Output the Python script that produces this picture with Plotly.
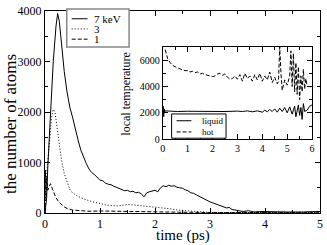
import plotly.graph_objects as go

# ---------------- data (main panel) ----------------
t7 = [0, 0.03, 0.05, 0.1, 0.15, 0.2, 0.23, 0.26, 0.3, 0.35, 0.4, 0.45, 0.5, 0.55, 0.6, 0.65,
      0.7, 0.75, 0.8, 0.85, 0.9, 0.95, 1.0, 1.05, 1.1, 1.15, 1.2, 1.25, 1.3, 1.35, 1.4, 1.45,
      1.5, 1.55, 1.6, 1.65, 1.7, 1.75, 1.8, 1.85, 1.9, 1.95, 2.0, 2.05, 2.1, 2.15, 2.2, 2.25,
      2.3, 2.35, 2.4, 2.45, 2.5, 2.55, 2.6, 2.65, 2.7, 2.75, 2.8, 2.85, 2.9, 2.95, 3.0, 3.05,
      3.1, 3.15, 3.2, 3.25, 3.3, 3.35, 3.4, 3.45, 3.5, 3.6, 3.7, 3.8, 3.9, 4.0, 4.1, 4.2,
      4.3, 4.4, 4.5, 4.6, 4.7, 4.8, 4.9, 5.0]
n7 = [0, 300, 900, 2000, 3000, 3700, 3950, 3800, 3300, 2800, 2400, 2100, 1900, 1650, 1450, 1250,
      1100, 980, 870, 800, 760, 700, 650, 640, 590, 570, 560, 530, 510, 480, 470, 440,
      450, 420, 430, 400, 410, 380, 320, 400, 420, 430, 450, 420, 500, 540, 520, 550,
      530, 540, 510, 500, 490, 460, 440, 400, 390, 360, 330, 300, 280, 250, 220, 200,
      180, 160, 150, 120, 100, 110, 70, 60, 50, 30, 45, 20, 30, 25, 30, 20,
      15, 20, 20, 15, 20, 25, 20, 30]

t3 = [0, 0.02, 0.05, 0.08, 0.1, 0.12, 0.15, 0.18, 0.2, 0.23, 0.26, 0.3, 0.35, 0.4, 0.45, 0.5,
      0.6, 0.7, 0.8, 0.9, 1.0, 1.1, 1.2, 1.3, 1.4, 1.5, 1.6, 1.7, 1.8, 1.9, 2.0, 2.1, 2.2,
      2.3, 2.4, 2.5, 2.6, 2.7, 2.8, 2.9, 3.0, 3.5, 4.0, 4.5, 5.0]
n3 = [0, 600, 1000, 1400, 1700, 1900, 2050, 2000, 1850, 1600, 1350, 1050, 780, 600, 470, 400,
      330, 280, 240, 210, 190, 160, 150, 140, 150, 170, 160, 150, 140, 120, 110, 100, 90,
      80, 60, 50, 40, 30, 20, 15, 10, 10, 8, 8, 8]

t1 = [0, 0.01, 0.02, 0.03, 0.05, 0.08, 0.1, 0.12, 0.15, 0.2, 0.25, 0.3, 0.35, 0.4, 0.5, 0.6,
      0.7, 0.8, 1.0, 1.2, 1.4, 1.6, 1.8, 2.0, 2.2, 2.5, 3.0, 3.5, 4.0, 4.5, 5.0]
n1 = [0, 850, 300, 700, 450, 550, 580, 520, 430, 300, 220, 160, 120, 90, 60, 50,
      40, 35, 40, 35, 30, 35, 30, 25, 20, 15, 10, 5, 5, 5, 5]

# ---------------- data (inset) ----------------
tl = [0, 0.02, 0.04, 0.06, 0.08, 0.1, 0.3, 0.6, 1.0, 1.5, 2.0, 2.5, 3.0, 3.2, 3.4, 3.6, 3.8,
      4.0, 4.1, 4.2, 4.3, 4.4, 4.5, 4.6, 4.7, 4.8, 4.9, 5.0, 5.1, 5.2, 5.3, 5.35, 5.45, 5.5,
      5.55, 5.6, 5.65, 5.7, 5.8, 5.9, 6.0]
Tl = [2100, 2500, 1700, 2300, 2050, 2150, 2120, 2100, 2120, 2100, 2110, 2100, 2130, 2100, 2150,
      2080, 2150, 2050, 2200, 2080, 2250, 2100, 2300, 2050, 2350, 2100, 2400, 2000, 2450, 1900,
      2500, 1700, 2600, 1800, 2400, 1500, 2700, 2100, 2200, 2500, 2600]

th = [0.1, 0.15, 0.2, 0.3, 0.4, 0.5, 0.6, 0.7, 0.8, 0.9, 1.0, 1.1, 1.2, 1.3, 1.4, 1.5, 1.6,
      1.7, 1.8, 1.9, 2.0, 2.1, 2.2, 2.3, 2.4, 2.5, 2.6, 2.7, 2.8, 2.9, 3.0, 3.1, 3.2, 3.3,
      3.4, 3.5, 3.6, 3.7, 3.8, 3.9, 4.0, 4.1, 4.2, 4.3, 4.4, 4.5, 4.6, 4.65, 4.7, 4.75, 4.8,
      4.9, 5.0, 5.1, 5.15, 5.2, 5.25, 5.3, 5.35, 5.4, 5.45, 5.5, 5.55, 5.6, 5.65, 5.7, 5.75,
      5.8, 5.9, 6.0]
Th = [6800, 6500, 6100, 5800, 5600, 5500, 5400, 5350, 5250, 5200, 5200, 5100, 5150, 5050, 5100,
      4950, 5000, 4900, 4850, 4800, 4750, 4800, 4950, 5000, 4850, 4950, 4700, 4550, 4600, 4800,
      4550, 4900, 4400, 5000, 4600, 4800, 4400, 4900, 4500, 5000, 4400, 4800, 4500, 5100, 4300,
      4700, 4200, 4400, 7000, 5000, 3700, 4500, 4100, 4800, 6700, 4000, 6500, 3600, 5800, 3400,
      5500, 3000, 4800, 3600, 5300, 3800, 4600, 4000, 4000, 3900]

main_names = ["7 keV", "3", "1"]
inset_names = ["liquid", "hot"]

FONT = "Liberation Serif"
W, H = 327, 245
ML, MR, MT, MB = 45, 4, 5, 32
PW, PH = W - ML - MR, H - MT - MB


def px(x):
    return (x - ML) / PW


def py(y):
    return (H - MB - y) / PH


fig = go.Figure()
lw = 1
fig.add_trace(go.Scatter(x=t7, y=n7, mode="lines", line=dict(color="black", width=lw), name=main_names[0]))
fig.add_trace(go.Scatter(x=t3, y=n3, mode="lines", line=dict(color="black", width=lw, dash="1px,2px"), name=main_names[1]))
fig.add_trace(go.Scatter(x=t1, y=n1, mode="lines", line=dict(color="black", width=lw, dash="4px,2px"), name=main_names[2]))
fig.add_trace(go.Scatter(x=tl, y=Tl, mode="lines", line=dict(color="black", width=lw), name=inset_names[0],
                         xaxis="x2", yaxis="y2"))
fig.add_trace(go.Scatter(x=th, y=Th, mode="lines", line=dict(color="black", width=lw, dash="4px,2px"), name=inset_names[1],
                         xaxis="x2", yaxis="y2"))

axcommon = dict(showgrid=False, zeroline=False, showline=True, linecolor="black", linewidth=1,
                mirror="allticks", ticks="inside", tickcolor="black", ticklen=5, tickwidth=1,
                ticklabeloverflow="allow")

fig.update_layout(
    width=W, height=H,
    margin=dict(l=ML, r=MR, t=MT, b=MB),
    paper_bgcolor="white", plot_bgcolor="white",
    showlegend=False,
    font=dict(family=FONT, color="black", size=12),
    xaxis=dict(range=[0, 5], dtick=1, tickfont=dict(size=12, family=FONT),
               minor=dict(dtick=0.5, ticks="inside", ticklen=3, tickcolor="black"), **axcommon),
    yaxis=dict(range=[0, 4000], dtick=1000, tickfont=dict(size=12, family=FONT),
               minor=dict(dtick=500, ticks="inside", ticklen=3, tickcolor="black"), **axcommon),
    xaxis2=dict(domain=[px(164), px(315)], anchor="y2", range=[0, 6], dtick=1,
                tickfont=dict(size=10, family=FONT),
                minor=dict(dtick=0.5, ticks="inside", ticklen=3, tickcolor="black"), **axcommon),
    yaxis2=dict(domain=[py(137), py(42)], anchor="x2", range=[0, 7000], tickvals=[0, 2000, 4000, 6000],
                tickfont=dict(size=10, family=FONT),
                minor=dict(dtick=1000, ticks="inside", ticklen=3, tickcolor="black"), **axcommon),
)

shapes = []
annots = []


def note(text, x, y, size, angle=0, xanchor="center"):
    annots.append(dict(text=text, x=px(x), y=py(y), xref="paper", yref="paper", textangle=angle,
                       xanchor=xanchor, yanchor="middle", showarrow=False,
                       font=dict(size=size, family=FONT, color="black")))


# axis titles
note("the number of atoms", 10, 121, 17, angle=-90)
note("time (ps)", 184, 236, 15)
note("local temperature", 126, 90, 12, angle=-90)

# main legend box
shapes.append(dict(type="rect", xref="paper", yref="paper", x0=px(67), x1=px(130), y0=py(42), y1=py(3),
                   line=dict(color="#888888", width=1.5), fillcolor="white"))
dashes = ["solid", "1px,2px", "4px,2px"]
for i, (nm, d) in enumerate(zip(main_names, dashes)):
    yy = 13 + 10.5 * i
    shapes.append(dict(type="line", xref="paper", yref="paper", x0=px(72), x1=px(88), y0=py(yy), y1=py(yy),
                       line=dict(color="black", width=1, dash=d)))
    note(nm, 93, yy, 11, xanchor="left")

# inset legend box
shapes.append(dict(type="rect", xref="paper", yref="paper", x0=px(173), x1=px(228), y0=py(136), y1=py(111),
                   line=dict(color="black", width=1), fillcolor="white"))
for i, (nm, d) in enumerate(zip(inset_names, ["solid", "4px,2px"])):
    yy = 118 + 11.5 * i
    shapes.append(dict(type="line", xref="paper", yref="paper", x0=px(178), x1=px(193), y0=py(yy), y1=py(yy),
                       line=dict(color="black", width=1, dash=d)))
    note(nm, 202, yy, 9, xanchor="left")

fig.update_layout(shapes=shapes, annotations=annots)
fig.write_html("out.html", config={"displayModeBar": False},
               post_script="document.body.style.margin='0';document.body.style.padding='0';")
